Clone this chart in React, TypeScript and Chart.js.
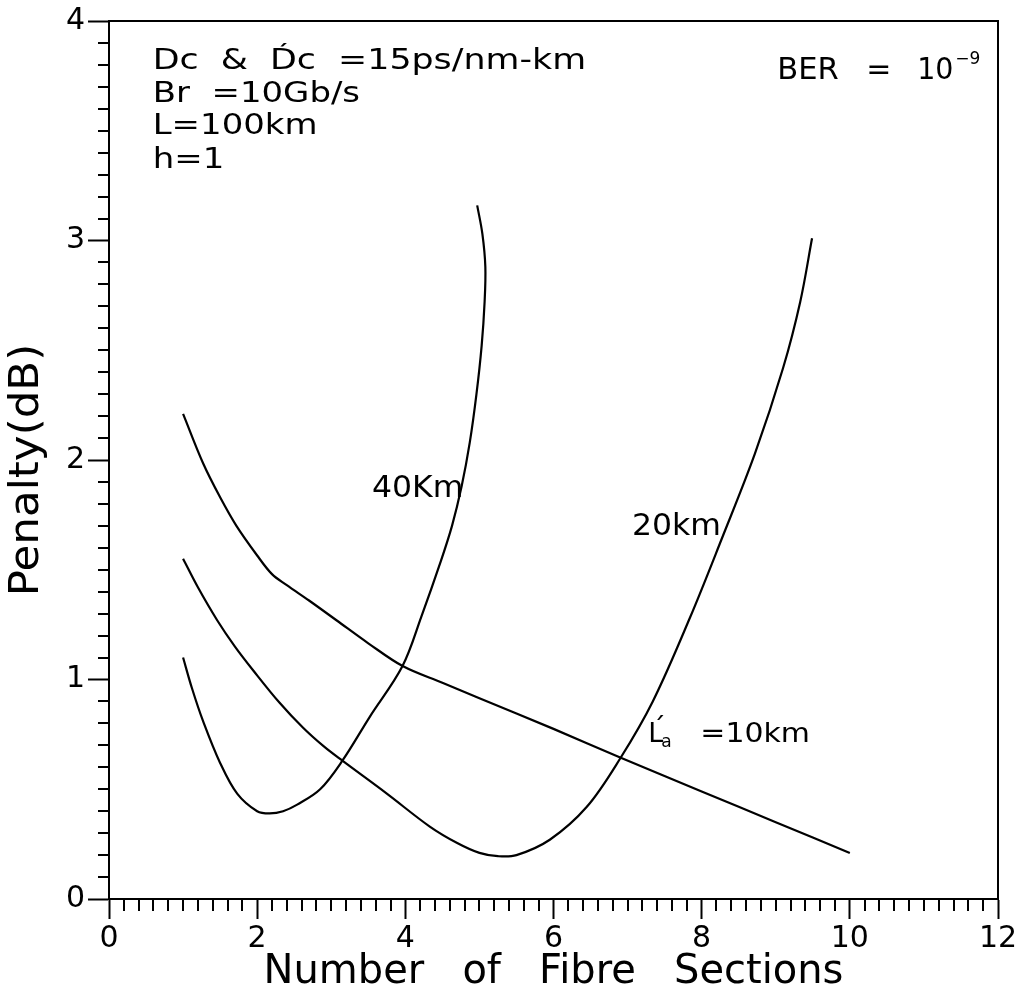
import React, { useEffect, useRef } from "react";
import { Chart, registerables } from "chart.js";

Chart.register(...registerables);

const FONT = "'DejaVu Sans', sans-serif";

// Axis ticks
const xTicks = [0, 2, 4, 6, 8, 10, 12];
const yTicks = [0, 1, 2, 3, 4];

// L'a = 40 km curve
const km40X = [1.0, 1.12, 1.27, 1.5, 1.73, 2.0, 2.17, 2.35, 2.54, 2.85, 3.15, 3.52, 3.96, 4.22, 4.47, 4.63, 4.76, 4.87, 4.96, 5.03, 5.07, 5.08, 5.04, 4.97];
const km40Y = [1.1, 0.96, 0.81, 0.62, 0.48, 0.4, 0.39, 0.4, 0.43, 0.5, 0.63, 0.83, 1.06, 1.29, 1.53, 1.7, 1.88, 2.08, 2.3, 2.52, 2.72, 2.88, 3.03, 3.16];

// L'a = 20 km curve
const km20X = [1.0, 1.2, 1.46, 1.7, 1.95, 2.3, 2.62, 2.9, 3.15, 3.75, 4.33, 4.7, 5.0, 5.25, 5.5, 5.95, 6.45, 6.9, 7.34, 7.84, 8.27, 8.72, 9.1, 9.33, 9.49];
const km20Y = [1.55, 1.42, 1.27, 1.15, 1.04, 0.895, 0.78, 0.695, 0.63, 0.48, 0.33, 0.255, 0.21, 0.195, 0.2, 0.27, 0.42, 0.64, 0.9, 1.28, 1.64, 2.03, 2.42, 2.72, 3.01];

// L'a = 10 km curve
const km10X = [1.0, 1.27, 1.5, 1.72, 2.0, 2.2, 2.4, 2.7, 3.07, 3.5, 3.97, 4.5, 5, 6, 6.9, 8, 9, 10];
const km10Y = [2.21, 1.985, 1.83, 1.7, 1.565, 1.48, 1.43, 1.36, 1.27, 1.165, 1.06, 0.985, 0.915, 0.775, 0.645, 0.49, 0.35, 0.21];

// Annotation text
const noteLines = ["Dc  &  D\u0301c  =15ps/nm-km", "Br  =10Gb/s", "L=100km", "h=1"];
const noteX = 0.59;
const noteY = [3.78, 3.63, 3.485, 3.33];

const curveLabels = ["40Km", "20km"];
const curveLabelX = [3.55, 7.06];
const curveLabelY = [1.83, 1.66];

const tenLabel = "=10km";
const tenLabelX = 7.28;
const tenLabelY = 0.715;

const berText = "BER";
const berX = 9.02;
const berY = 3.735;

const yTitle = "Penalty(dB)";
const xTitle = "Number   of   Fibre   Sections";

const toPts = (xs: number[], ys: number[]) => xs.map((v, i) => ({ x: v, y: ys[i] }));

function drawText(ctx: any, text: string, px: number, py: number, size: number, sx: number) {
  ctx.save();
  ctx.translate(px, py);
  ctx.scale(sx, 1);
  ctx.font = `${size}px ${FONT}`;
  ctx.fillText(text, 0, 0);
  ctx.restore();
}

const decor = {
  id: "decor",
  afterDraw(chart: any) {
    const { ctx, chartArea: a, scales } = chart;
    const x = scales.x;
    const y = scales.y;
    ctx.save();
    ctx.strokeStyle = "#000";
    ctx.lineWidth = 2;
    ctx.strokeRect(a.left, a.top, a.right - a.left, a.bottom - a.top);
    ctx.beginPath();
    for (let i = 0; i <= 60; i++) {
      if (i % 10 === 0) continue;
      const px = Math.round(x.getPixelForValue(i * 0.2));
      ctx.moveTo(px, a.bottom);
      ctx.lineTo(px, a.bottom + 12);
    }
    for (let i = 0; i <= 40; i++) {
      if (i % 10 === 0) continue;
      const py = Math.round(y.getPixelForValue(i * 0.1));
      ctx.moveTo(a.left - 11, py);
      ctx.lineTo(a.left, py);
    }
    ctx.stroke();

    ctx.fillStyle = "#000";
    ctx.textBaseline = "alphabetic";
    ctx.textAlign = "left";

    noteLines.forEach((t, i) => {
      drawText(ctx, t, x.getPixelForValue(noteX), y.getPixelForValue(noteY[i]), 29, i === 0 ? 1.2 : 1.17);
    });

    curveLabels.forEach((t, i) => {
      drawText(ctx, t, x.getPixelForValue(curveLabelX[i]), y.getPixelForValue(curveLabelY[i]), 30, 1.05);
    });

    // L'a = 10km
    const lx = x.getPixelForValue(tenLabelX);
    const ly = y.getPixelForValue(tenLabelY);
    drawText(ctx, "L", lx, ly, 27, 1.0);
    drawText(ctx, "\u00B4", lx + 4, ly - 5, 27, 1.0);
    drawText(ctx, "a", lx + 13, ly + 5, 17, 1.0);
    drawText(ctx, tenLabel, lx + 52, ly, 26, 1.15);

    // BER = 10^-9
    const bx = x.getPixelForValue(berX);
    const by = y.getPixelForValue(berY);
    drawText(ctx, berText, bx, by, 30, 1.02);
    drawText(ctx, "=", bx + 89, by, 30, 1.0);
    drawText(ctx, "10", bx + 140, by, 30, 0.95);
    drawText(ctx, "\u22129", bx + 178, by - 15, 17, 1.0);

    // Y axis title (rotated)
    ctx.save();
    ctx.translate(28, 470);
    ctx.rotate(-Math.PI / 2);
    ctx.scale(1.09, 1);
    ctx.textAlign = "center";
    ctx.textBaseline = "middle";
    ctx.font = `40px ${FONT}`;
    ctx.fillText(yTitle, 0, 0);
    ctx.restore();

    ctx.restore();
  },
};

export default function App() {
  const ref = useRef<HTMLCanvasElement | null>(null);
  useEffect(() => {
    if (!ref.current) return;
    const line = (data: any) => ({
      data,
      showLine: true,
      borderColor: "#000",
      borderWidth: 2.2,
      pointRadius: 0,
      tension: 0.35,
      fill: false,
    });
    const chart = new Chart(ref.current, {
      type: "scatter",
      data: {
        datasets: [
          { label: "40Km", ...line(toPts(km40X, km40Y)) },
          { label: "20km", ...line(toPts(km20X, km20Y)) },
          { label: "10km", ...line(toPts(km10X, km10Y)) },
        ],
      },
      options: {
        animation: false,
        responsive: false,
        maintainAspectRatio: false,
        layout: { padding: { top: 19, right: 29, left: 0, bottom: 0 } },
        plugins: { legend: { display: false }, tooltip: { enabled: false } },
        scales: {
          x: {
            type: "linear",
            min: 0,
            max: 12,
            afterBuildTicks: (s: any) => {
              s.ticks = xTicks.map((v) => ({ value: v }));
            },
            ticks: { font: { family: FONT, size: 30 }, color: "#000", padding: 2, maxRotation: 0 },
            grid: { drawOnChartArea: false, tickLength: 20, tickWidth: 2, tickColor: "#000" },
            border: { color: "#000", width: 2 },
            title: {
              display: true,
              text: xTitle,
              font: { family: FONT, size: 40 },
              color: "#000",
              padding: { top: 0, bottom: 0 },
            },
            afterFit: (s: any) => {
              s.height = 98;
            },
          },
          y: {
            type: "linear",
            min: 0,
            max: 4,
            afterBuildTicks: (s: any) => {
              s.ticks = yTicks.map((v) => ({ value: v }));
            },
            ticks: { font: { family: FONT, size: 30 }, color: "#000", padding: 3 },
            grid: { drawOnChartArea: false, tickLength: 21, tickWidth: 2, tickColor: "#000" },
            border: { color: "#000", width: 2 },
            title: { display: false },
            afterFit: (s: any) => {
              s.width = 109;
            },
          },
        },
      },
      plugins: [decor],
    });
    return () => chart.destroy();
  }, []);
  return (
    <div style={{ position: "fixed", left: 0, top: 0, width: 1027, height: 997, background: "#fff" }}>
      <canvas ref={ref} width={1027} height={997} style={{ display: "block" }} />
    </div>
  );
}
